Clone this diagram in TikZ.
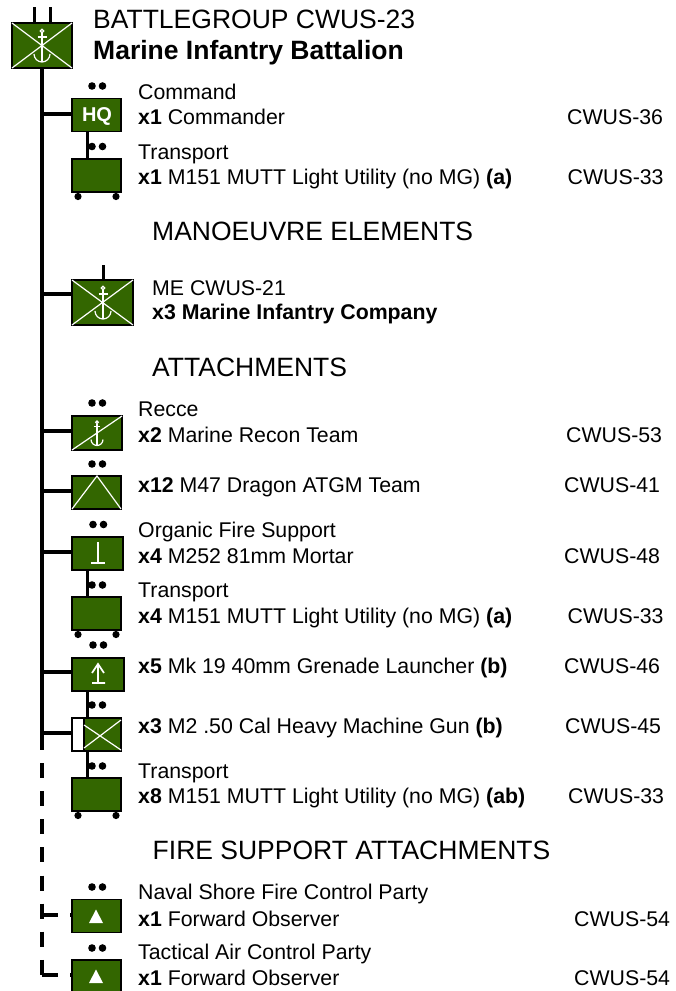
\documentclass[tikz,border=0pt]{standalone}
\usepackage{fontspec}
\setmainfont{Liberation Sans}
\definecolor{unitgreen}{HTML}{336600}
\newcommand{\anchorsym}[3]{\begin{scope}[shift={(#1,#2)},scale=#3,line width=1.2pt,draw=white]
\draw (0,-13) circle (1.8);
\draw (0,-11) -- (0,18);
\draw (-4.5,-7) -- (4.5,-7);
\draw (-8,10) arc[start angle=180,end angle=0,radius=8];
\end{scope}}
\newcommand{\twodots}[2]{\fill (#1,#2) circle (3.8) (#1+10.5,#2) circle (3.8);}
\newcommand{\wheels}[1]{\fill (78,#1) circle (3.6) (116,#1) circle (3.6);}
\tikzset{
 x=1pt,y=-1pt,
 unit/.style={draw=black,line width=1.4pt,fill=unitgreen,minimum width=#1,inner sep=0pt,outer sep=0pt,anchor=north west},
 unit/.default=49pt,
 conn/.style={line width=4pt,draw=black},
 link/.style={line width=3.5pt,draw=black},
 dconn/.style={line width=4pt,draw=black,dash pattern=on 15pt off 13.1pt},
 sym/.style={draw=white,line width=1.2pt},
 title/.style={anchor=base west,inner sep=0pt,font=\fontsize{26.5}{26.5}\selectfont},
 head/.style={anchor=base west,inner sep=0pt,font=\fontsize{26.5}{26.5}\selectfont},
 lab/.style={anchor=base west,inner sep=0pt,font=\fontsize{21.3}{21.3}\selectfont},
 code/.style={anchor=base west,inner sep=0pt,font=\fontsize{21.3}{21.3}\selectfont},
}
\begin{document}
\begin{tikzpicture}
\useasboundingbox (0,0) rectangle (676,991);
\coordinate (spinetop) at (42,67);
\coordinate (spinemid) at (42,735);
\coordinate (spineend) at (42,977);
% unit boxes
\node[unit=60pt,minimum height=45pt] (bg) at (12,23) {};
\node[unit,minimum height=33pt] (hq) at (72,98.5) {};
\node[unit,minimum height=33pt] (tr1) at (72,159) {};
\node[unit=61pt,minimum height=45pt] (me) at (72,280) {};
\node[unit=50pt,minimum height=34pt] (recce) at (72,416) {};
\node[unit,minimum height=33pt] (atgm) at (72,476) {};
\node[unit=51pt,minimum height=33pt] (mor) at (72,537) {};
\node[unit,minimum height=33pt] (tr2) at (72,597) {};
\node[unit=52pt,minimum height=33pt] (gl) at (72,658) {};
\node[unit,minimum height=33pt] (hmg) at (72,718) {};
\node[unit,minimum height=33pt] (tr3) at (72,778) {};
\node[unit,minimum height=33pt] (fo1) at (72,899.5) {};
\node[unit,minimum height=33pt] (fo2) at (72,960) {};
% connectors
\draw[conn] (bg.south -| spinetop) -- (spinemid);
\draw[dconn] (spinemid) -- (spineend);
\foreach \t/\yy in {hq/114,me/294,recce/431,atgm/491,mor/552,gl/672,hmg/733}{\draw[conn] (\t.west |- 0,\yy) -- (spinetop |- 0,\yy);}
\draw[dconn,dash pattern=on 16pt off 12pt] (spinetop |- 0,915) -- (fo1.west |- 0,915);
\draw[dconn,dash pattern=on 16pt off 12pt] (spinetop |- 0,975) -- (fo2.west |- 0,975);
\draw[link] (hq.south -| 87.3,0) -- (tr1.north -| 87.3,0);
\draw[link] (mor.south -| 87.3,0) -- (tr2.north -| 87.3,0);
\draw[link] (gl.south -| 87.3,0) -- (hmg.north -| 87.3,0);
\draw[link] (hmg.south -| 87.3,0) -- (tr3.north -| 87.3,0);
% top ticks
\draw[line width=3pt] (34,7) -- (34,22);
\draw[line width=3pt] (50,7) -- (50,22);
\draw[line width=3pt] (103,265) -- (103,279);
% dots and wheels
\twodots{92}{86}\twodots{92}{146.5}\wheels{196.5}
\twodots{92}{403}\twodots{92}{464}\twodots{93}{524.5}\twodots{92}{585}\wheels{634.5}
\twodots{93}{645}\twodots{92}{705}\twodots{92}{766}\wheels{815.5}
\twodots{92}{887}\twodots{92}{948}
% symbols
\draw[sym] (bg.north west) -- (bg.south east) (bg.south west) -- (bg.north east);
\anchorsym{42}{44}{1}
\draw[sym] (me.north west) -- (me.south east) (me.south west) -- (me.north east);
\anchorsym{103}{301}{1}
\draw[sym] (recce.south west) -- (recce.north east);
\anchorsym{97}{432}{0.75}
\draw[sym] (atgm.south west) -- (97,476) -- (atgm.south east);
\draw[sym,line width=1.9pt] (98,542) -- (98,563) (91,563) -- (105,563);
\node[inner sep=0pt,text=white,font=\fontsize{20}{20}\selectfont\bfseries] (hqt) at (97,116) {HQ};
\draw[sym,line width=1.7pt] (98,664) -- (98,682) (92,683) -- (105,683) (92,673) -- (98,664) -- (104,673);
% HMG
\fill[white] (72,718) rectangle (84,751);
\draw[black,line width=1.2pt] (72,718) -- (84,718) -- (84,751) -- (72,751) -- cycle;
\draw[sym] (84,725) -- (121,750) (84,748) -- (121,720);
% triangles
\fill[white] (96,909.5) -- (103,923) -- (89,923) -- cycle;
\fill[white] (96,969.5) -- (103,983) -- (89,983) -- cycle;
% texts
\node[title] (t1) at (93,28) {BATTLEGROUP CWUS-23};
\node[title,font=\fontsize{26.5}{26.5}\selectfont\bfseries] (t2) at (93,59) {Marine Infantry Battalion};
\node[lab] (a1) at (138,99) {Command};
\node[lab] (a2) at (138,124) {\textbf{x1} Commander};
\node[code] (c1) at (567,124) {CWUS-36};
\node[lab] (a3) at (138,159) {Transport};
\node[lab] (a4) at (138,184) {\textbf{x1} M151 MUTT Light Utility (no MG) \textbf{(a)}};
\node[code] (c2) at (567.5,184) {CWUS-33};
\node[head] (h1) at (152,240) {MANOEUVRE ELEMENTS};
\node[lab] (a5) at (152,295) {ME CWUS-21};
\node[lab,font=\fontsize{21.3}{21.3}\selectfont\bfseries] (a6) at (152,319) {x3 Marine Infantry Company};
\node[head] (h2) at (152,376) {ATTACHMENTS};
\node[lab] (a7) at (138,416) {Recce};
\node[lab] (a8) at (138,442) {\textbf{x2} Marine Recon Team};
\node[code] (c3) at (566,442) {CWUS-53};
\node[lab] (a9) at (138,492) {\textbf{x12} M47 Dragon ATGM Team};
\node[code] (c4) at (564,492) {CWUS-41};
\node[lab] (a10) at (138,537) {Organic Fire Support};
\node[lab] (a11) at (138,563) {\textbf{x4} M252 81mm Mortar};
\node[code] (c5) at (564,563) {CWUS-48};
\node[lab] (a12) at (138,597) {Transport};
\node[lab] (a13) at (138,623) {\textbf{x4} M151 MUTT Light Utility (no MG) \textbf{(a)}};
\node[code] (c6) at (567.5,623) {CWUS-33};
\node[lab] (a14) at (138,673) {\textbf{x5} Mk 19 40mm Grenade Launcher \textbf{(b)}};
\node[code] (c7) at (564,673) {CWUS-46};
\node[lab] (a15) at (138,733) {\textbf{x3} M2 .50 Cal Heavy Machine Gun \textbf{(b)}};
\node[code] (c8) at (565,733) {CWUS-45};
\node[lab] (a16) at (138,778) {Transport};
\node[lab] (a17) at (138,803) {\textbf{x8} M151 MUTT Light Utility (no MG) \textbf{(ab)}};
\node[code] (c9) at (568,803) {CWUS-33};
\node[head] (h3) at (152.5,859) {FIRE SUPPORT ATTACHMENTS};
\node[lab] (a18) at (138,899) {Naval Shore Fire Control Party};
\node[lab] (a19) at (138,926) {\textbf{x1} Forward Observer};
\node[code] (c10) at (574,926) {CWUS-54};
\node[lab] (a20) at (138,959) {Tactical Air Control Party};
\node[lab] (a21) at (138,985) {\textbf{x1} Forward Observer};
\node[code] (c11) at (574,985) {CWUS-54};
\end{tikzpicture}
\end{document}
